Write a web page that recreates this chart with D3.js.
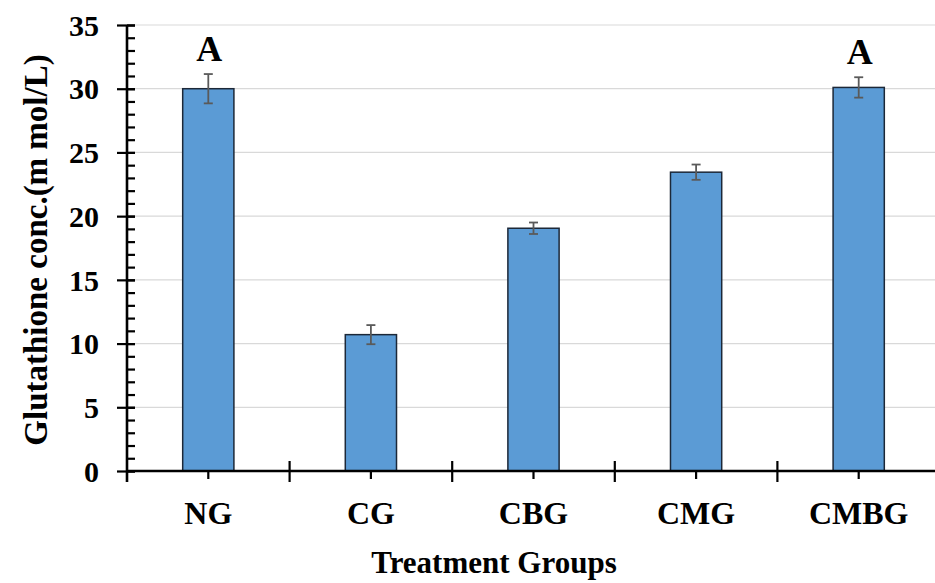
<!DOCTYPE html>
<html><head><meta charset="utf-8">
<script src="https://cdn.jsdelivr.net/npm/d3@7"></script>
<style>
body{margin:0;background:#fff;}
svg{display:block;}
text{font-family:"Liberation Serif","Times New Roman",serif;font-weight:bold;fill:#000;}
</style></head><body>
<svg id="c" width="935" height="583"></svg>
<script>
const categories = ["NG","CG","CBG","CMG","CMBG"];
const values = [30.0, 10.7, 19.05, 23.45, 30.1];
const errors = [1.15, 0.75, 0.45, 0.6, 0.8];
const letters = ["A","","","","A"];
const yTicks = [0,5,10,15,20,25,30,35];
const yMinorTicks = d3.range(0,36,1);

const svg = d3.select("#c");
const X0 = 127, X1 = 940, Y0 = 471, Y1 = 25;
const x = d3.scaleBand().domain(categories).range([X0, X1]).paddingInner(0).paddingOuter(0);
const y = d3.scaleLinear().domain([0,35]).range([Y0, Y1]);
const barW = x.bandwidth()*0.315;

// gridlines
svg.append("g").selectAll("line").data(yTicks.filter(d=>d>0)).join("line")
  .attr("x1", X0).attr("x2", 935).attr("y1", d=>y(d)).attr("y2", d=>y(d))
  .attr("stroke", "#d9d9d9").attr("stroke-width", 1.2);

// bars
svg.append("g").selectAll("rect").data(categories).join("rect")
  .attr("x", d=>x(d)+x.bandwidth()/2-barW/2)
  .attr("y", (d,i)=>y(values[i]))
  .attr("width", barW)
  .attr("height", (d,i)=>Y0-y(values[i]))
  .attr("fill", "#5b9bd5").attr("stroke", "#1c2838").attr("stroke-width", 1.5);

// error bars
const eb = svg.append("g").attr("stroke", "#5a5a5a").attr("stroke-width", 1.8);
categories.forEach((c,i)=>{
  const cx = x(c)+x.bandwidth()/2;
  eb.append("line").attr("x1",cx).attr("x2",cx).attr("y1",y(values[i]+errors[i])).attr("y2",y(values[i]-errors[i]));
  [values[i]+errors[i], values[i]-errors[i]].forEach(v=>{
    eb.append("line").attr("x1",cx-4.5).attr("x2",cx+4.5).attr("y1",y(v)).attr("y2",y(v));
  });
});

// letters
svg.append("g").selectAll("text").data(categories).join("text")
  .attr("x", d=>x(d)+x.bandwidth()/2+1)
  .attr("y", (d,i)=>y(values[i]+errors[i]) - 13)
  .attr("text-anchor","middle").style("font-size","36px")
  .text((d,i)=>letters[i]);

// y axis minor ticks (right side)
const yMinor = svg.append("g").attr("transform",`translate(${X0},0)`)
  .call(d3.axisRight(y).tickValues(yMinorTicks).tickSize(8).tickFormat(""));
yMinor.select(".domain").remove();
yMinor.selectAll("line").attr("stroke","#000").attr("stroke-width",2.2);

// y axis major
const yAx = svg.append("g").attr("transform",`translate(${X0},0)`)
  .call(d3.axisLeft(y).tickValues(yTicks).tickSize(10).tickPadding(18).tickSizeOuter(0));
yAx.select(".domain").remove();
yAx.selectAll("line").attr("stroke","#000").attr("stroke-width",2.2).attr("x2",-10);
yAx.selectAll(".tick line").clone().attr("x2",8);
yAx.selectAll("text").style("font-size","30px").style("font-family","Liberation Serif").attr("dy","0.34em");

// y axis line (extends below 0)
svg.append("line").attr("x1",X0).attr("x2",X0).attr("y1",Y1).attr("y2",Y0+11)
  .attr("stroke","#000").attr("stroke-width",2.6);

// x axis
const xAx = svg.append("g").attr("transform",`translate(0,${Y0})`)
  .call(d3.axisBottom(x).tickSize(8).tickPadding(22).tickSizeOuter(0));
xAx.select(".domain").remove();
xAx.selectAll("line").attr("stroke","#000").attr("stroke-width",2.2);
xAx.selectAll("text").style("font-size","32px").style("font-family","Liberation Serif");
svg.append("line").attr("x1",X0).attr("x2",935).attr("y1",Y0).attr("y2",Y0)
  .attr("stroke","#000").attr("stroke-width",2.6);
// category separators
svg.append("g").selectAll("line").data(categories.slice(1)).join("line")
  .attr("x1", d=>x(d)).attr("x2", d=>x(d)).attr("y1", Y0-10).attr("y2", Y0+11)
  .attr("stroke","#000").attr("stroke-width",2.2);

// titles
svg.append("text").attr("x",494).attr("y",573).attr("text-anchor","middle")
  .style("font-size","31px").text("Treatment Groups");
svg.append("text").attr("transform","translate(47,250) rotate(-90)").attr("text-anchor","middle")
  .style("font-size","33px").text("Glutathione conc.(m mol/L)");
</script>
</body></html>
